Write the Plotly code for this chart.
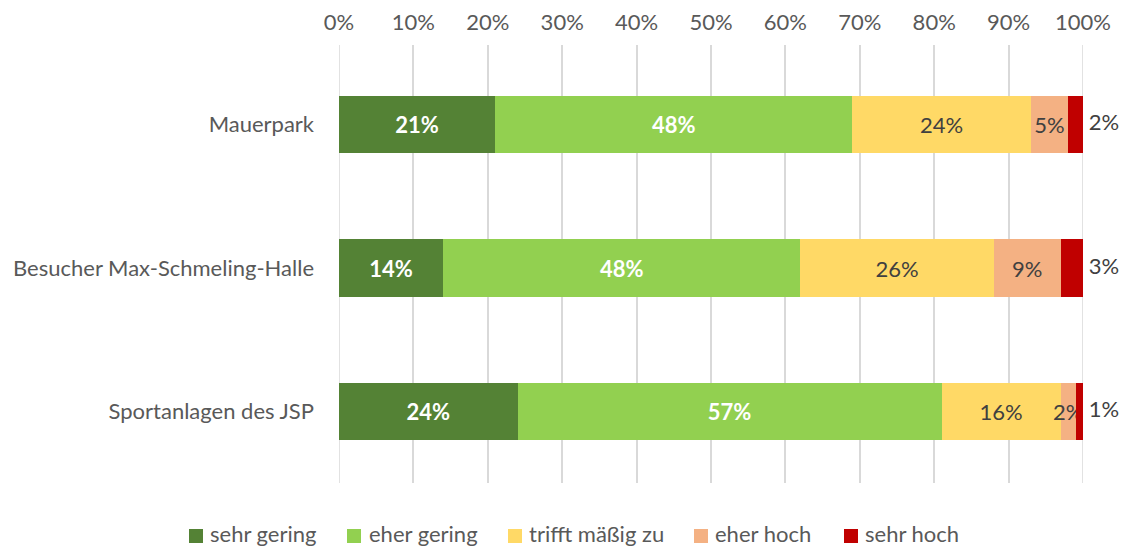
import plotly.graph_objects as go

categories = ["Mauerpark", "Besucher Max-Schmeling-Halle", "Sportanlagen des JSP"]
series_names = ["sehr gering", "eher gering", "trifft mäßig zu", "eher hoch", "sehr hoch"]
sehr_gering = [21, 14, 24]
eher_gering = [48, 48, 57]
maessig = [24, 26, 16]
eher_hoch = [5, 9, 2]
sehr_hoch = [2, 3, 1]
tick_vals = [0, 10, 20, 30, 40, 50, 60, 70, 80, 90, 100]
tick_text = [f"{v}%" for v in tick_vals]

colors = ["#548235", "#92D050", "#FFD966", "#F4B183", "#C00000"]
FONT = "Lato"
FS = 22
series = [sehr_gering, eher_gering, maessig, eher_hoch, sehr_hoch]
ypos = list(range(len(categories)))

# layout geometry (pixels)
W, H = 1125, 547
ML, MR, MT, MB = 339, 42, 45, 64
PW, PH = W - ML - MR, H - MT - MB
legend_square_x = [189, 347, 508, 694, 844]
legend_text_x = [208, 367, 527, 713, 863]
legend_sq_y = 536
legend_txt_y = 533
SQ = 14
GRID = "#D9D9D9"


def px2x(px):
    return (px - ML) / PW


def py2y(py):
    return (H - MB - py) / PH


fig = go.Figure()
for i, (name, vals) in enumerate(zip(series_names, series)):
    if i < 2:
        tf = dict(family=FONT, size=FS, color="white", weight="bold")
    else:
        tf = dict(family=FONT, size=FS, color="#404040")
    fig.add_trace(go.Bar(
        y=ypos, x=vals, name=name, orientation="h",
        marker=dict(color=colors[i], line=dict(width=0)),
        width=0.4,
        text=[f"{v}%" for v in vals] if i < 4 else None,
        textposition="inside" if i < 4 else "none",
        insidetextanchor="middle",
        textangle=0,
        constraintext="none",
        insidetextfont=tf,
        hoverinfo="skip",
        cliponaxis=False,
        showlegend=False,
    ))

totals = [sum(s[j] for s in series) for j in range(len(categories))]
fig.add_trace(go.Scatter(
    y=ypos, x=totals, mode="text",
    text=[f" {v}%" for v in sehr_hoch],
    textposition="middle right",
    textfont=dict(family=FONT, size=FS, color="#404040"),
    showlegend=False, hoverinfo="skip", cliponaxis=False,
))

# edge gridlines (plotly drops grid lines at the very ends of the range)
for v in (tick_vals[0], tick_vals[-1]):
    fig.add_shape(type="line", xref="x", yref="paper", x0=v, x1=v, y0=0, y1=1,
                  line=dict(color=GRID, width=1.5), layer="below")

# manual legend (matches the reference spacing)
for i, name in enumerate(series_names):
    fig.add_shape(type="rect", xref="paper", yref="paper",
                  x0=px2x(legend_square_x[i]), x1=px2x(legend_square_x[i] + SQ),
                  y0=py2y(legend_sq_y - SQ / 2), y1=py2y(legend_sq_y + SQ / 2),
                  fillcolor=colors[i], line=dict(width=0))
    fig.add_annotation(xref="paper", yref="paper",
                       x=px2x(legend_text_x[i]), y=py2y(legend_txt_y),
                       xanchor="left", yanchor="middle", showarrow=False,
                       text=name, font=dict(family=FONT, size=FS, color="#595959"))

fig.update_layout(
    width=W, height=H,
    barmode="stack",
    plot_bgcolor="white", paper_bgcolor="white",
    margin=dict(l=ML, r=MR, t=MT, b=MB, autoexpand=False),
    font=dict(family=FONT, size=FS, color="#595959"),
    showlegend=False,
    xaxis=dict(range=[0, 100], side="top", tickvals=tick_vals, ticktext=tick_text,
               showgrid=True, gridcolor=GRID, gridwidth=1.5,
               zeroline=False, showline=False, ticks="", ticklabelstandoff=10,
               automargin=False,
               tickfont=dict(family=FONT, size=FS, color="#595959")),
    yaxis=dict(range=[2.498, -0.554], tickvals=ypos, ticktext=categories,
               showgrid=False, zeroline=False, showline=False, ticks="",
               ticklabelstandoff=24, automargin=False,
               tickfont=dict(family=FONT, size=FS, color="#595959")),
)
fig.write_html("out.html",
               config={"displayModeBar": False},
               post_script="document.body.style.margin='0';document.body.style.overflow='hidden';")
